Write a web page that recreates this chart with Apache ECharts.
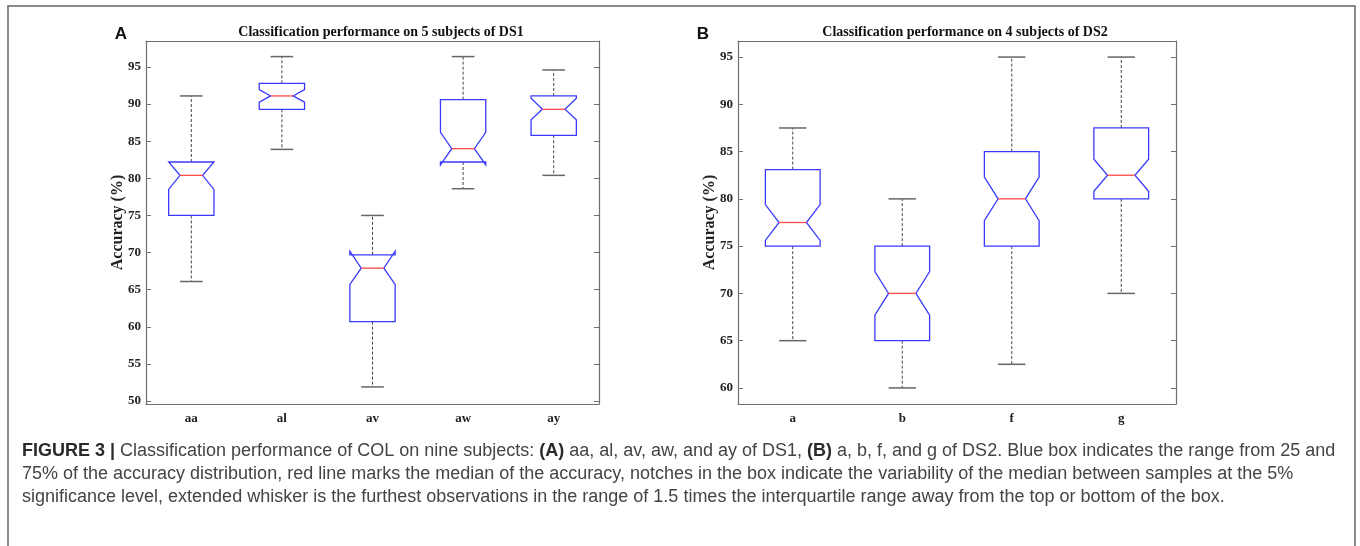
<!DOCTYPE html>
<html>
<head>
<meta charset="utf-8">
<script src="https://cdn.jsdelivr.net/npm/echarts@6/dist/echarts.min.js"></script>
<style>
  html, body { margin: 0; padding: 0; background: #fff; }
  #chart { width: 1360px; height: 546px; }
</style>
</head>
<body>
<div id="chart"></div>
<script>
// panel A - 5 subjects of DS1
var catsA = ['aa', 'al', 'av', 'aw', 'ay']
var minA = [66.1, 83.9, 51.9, 78.6, 80.4]
var q1A = [75.0, 89.3, 60.7, 82.2, 85.8]
var notchLoA = [78.5, 90.25, 65.7, 81.8, 87.9]
var medA = [80.4, 91.1, 67.9, 84.0, 89.3]
var notchHiA = [82.2, 91.95, 70.2, 86.2, 90.8]
var q3A = [82.2, 92.8, 69.7, 90.6, 91.1]
var maxA = [91.1, 96.4, 75.0, 96.4, 94.6]
var ticksA = [50, 55, 60, 65, 70, 75, 80, 85, 90, 95]

// panel B - 4 subjects of DS2
var catsB = ['a', 'b', 'f', 'g']
var minB = [65, 60, 62.5, 70]
var q1B = [75, 65, 75, 80]
var notchLoB = [75.6, 67.7, 77.7, 80.8]
var medB = [77.5, 70, 80, 82.5]
var notchHiB = [79.4, 72.3, 82.3, 84.2]
var q3B = [83.1, 75, 85, 87.5]
var maxB = [87.5, 80, 95, 95]
var ticksB = [60, 65, 70, 75, 80, 85, 90, 95]

var serif = 'Liberation Serif'
var sans = 'Liberation Sans'
var axisGray = '#707070'

function rows (mins, q1s, nlos, meds, nhis, q3s, maxs) {
  return mins.map(function (v, i) {
    return [i, v, q1s[i], nlos[i], meds[i], nhis[i], q3s[i], maxs[i]]
  })
}

// matlab style notched box
function renderBox (params, api) {
  var i = api.value(0)
  var cx = api.coord([i, api.value(4)])[0]
  var half = api.size([1, 0])[0] * 0.25
  var inner = half / 2
  function y (k) { return api.coord([i, api.value(k)])[1] }
  var yMin = y(1), yQ1 = y(2), yNlo = y(3), yMed = y(4), yNhi = y(5), yQ3 = y(6), yMax = y(7)
  var dash = { stroke: '#444', lineWidth: 1, lineDash: [3, 2], fill: null }
  var cap = { stroke: '#666', lineWidth: 1.5, fill: null }
  return {
    type: 'group',
    children: [
      { type: 'line', shape: { x1: cx, y1: yQ3, x2: cx, y2: yMax }, style: dash },
      { type: 'line', shape: { x1: cx, y1: yQ1, x2: cx, y2: yMin }, style: dash },
      { type: 'line', shape: { x1: cx - inner, y1: yMax, x2: cx + inner, y2: yMax }, style: cap },
      { type: 'line', shape: { x1: cx - inner, y1: yMin, x2: cx + inner, y2: yMin }, style: cap },
      {
        type: 'polygon',
        shape: {
          points: [
            [cx - half, yQ1], [cx - half, yNlo], [cx - inner, yMed], [cx - half, yNhi], [cx - half, yQ3],
            [cx + half, yQ3], [cx + half, yNhi], [cx + inner, yMed], [cx + half, yNlo], [cx + half, yQ1]
          ]
        },
        style: { fill: null, stroke: '#3a3aff', lineWidth: 1.3 }
      },
      { type: 'line', shape: { x1: cx - inner, y1: yMed, x2: cx + inner, y2: yMed }, style: { stroke: '#ff4a4a', lineWidth: 1.3 } }
    ]
  }
}

function catAxis (grid, cats, top) {
  return {
    gridIndex: grid,
    type: 'category',
    data: cats,
    position: top ? 'top' : 'bottom',
    axisLine: { onZero: false, lineStyle: { color: axisGray, width: 1.2 } },
    axisTick: { inside: true, alignWithLabel: true, length: 5, lineStyle: { color: axisGray } },
    axisLabel: { show: !top, fontFamily: serif, fontWeight: 'bold', fontSize: 13, color: '#222', margin: 8 },
    splitLine: { show: false }
  }
}

function valAxis (grid, min, max, ticks, right) {
  return {
    gridIndex: grid,
    type: 'value',
    min: min,
    max: max,
    position: right ? 'right' : 'left',
    name: right ? '' : 'Accuracy (%)',
    nameLocation: 'middle',
    nameGap: 20,
    nameMoveOverlap: false,
    nameTextStyle: { fontFamily: serif, fontWeight: 'bold', fontSize: 16, color: '#222' },
    axisLine: { show: true, onZero: false, lineStyle: { color: axisGray, width: 1.2 } },
    axisTick: { show: true, inside: true, length: 5, customValues: ticks, lineStyle: { color: axisGray } },
    axisLabel: { show: !right, customValues: ticks, fontFamily: serif, fontWeight: 'bold', fontSize: 13, color: '#222', margin: 5 },
    splitLine: { show: false }
  }
}

function txt (x, y, text, size, weight, family, align) {
  return {
    type: 'text',
    x: x,
    y: y,
    style: {
      text: text,
      fontSize: size,
      fontWeight: weight,
      fontFamily: family,
      fill: '#111',
      align: align || 'center',
      verticalAlign: 'middle'
    }
  }
}

var bold = { fontFamily: sans, fontSize: 18, fontWeight: 'bold', fill: '#2a2a2a' }
function captionLine (y, text) {
  return {
    type: 'text',
    x: 22,
    y: y,
    style: {
      text: text,
      fontFamily: sans,
      fontSize: 18,
      fill: '#444',
      verticalAlign: 'middle',
      rich: { b: bold }
    }
  }
}

var chart = echarts.init(document.getElementById('chart'))
chart.setOption({
  animation: false,
  grid: [
    { left: 146, top: 41, width: 453, height: 363 },
    { left: 738, top: 41, width: 438, height: 363 }
  ],
  xAxis: [catAxis(0, catsA, false), catAxis(0, catsA, true), catAxis(1, catsB, false), catAxis(1, catsB, true)],
  yAxis: [
    valAxis(0, 49.6, 98.5, ticksA, false), valAxis(0, 49.6, 98.5, ticksA, true),
    valAxis(1, 58.3, 96.7, ticksB, false), valAxis(1, 58.3, 96.7, ticksB, true)
  ],
  series: [
    {
      type: 'custom',
      xAxisIndex: 0,
      yAxisIndex: 0,
      renderItem: renderBox,
      data: rows(minA, q1A, notchLoA, medA, notchHiA, q3A, maxA)
    },
    {
      type: 'custom',
      xAxisIndex: 2,
      yAxisIndex: 2,
      renderItem: renderBox,
      data: rows(minB, q1B, notchLoB, medB, notchHiB, q3B, maxB)
    }
  ],
  graphic: [
    { type: 'rect', shape: { x: 8, y: 6, width: 1347, height: 580 }, style: { fill: null, stroke: '#666', lineWidth: 1.5 } },
    txt(121, 34, 'A', 17, 'bold', sans),
    txt(703, 34, 'B', 17, 'bold', sans),
    txt(381, 32, 'Classification performance on 5 subjects of DS1', 14, 'bold', serif),
    txt(965, 32, 'Classification performance on 4 subjects of DS2', 14, 'bold', serif),
    captionLine(451, '{b|FIGURE 3 |} Classification performance of COL on nine subjects: {b|(A)} aa, al, av, aw, and ay of DS1, {b|(B)} a, b, f, and g of DS2. Blue box indicates the range from 25 and'),
    captionLine(474, '75% of the accuracy distribution, red line marks the median of the accuracy, notches in the box indicate the variability of the median between samples at the 5%'),
    captionLine(497, 'significance level, extended whisker is the furthest observations in the range of 1.5 times the interquartile range away from the top or bottom of the box.')
  ]
})
</script>
</body>
</html>
